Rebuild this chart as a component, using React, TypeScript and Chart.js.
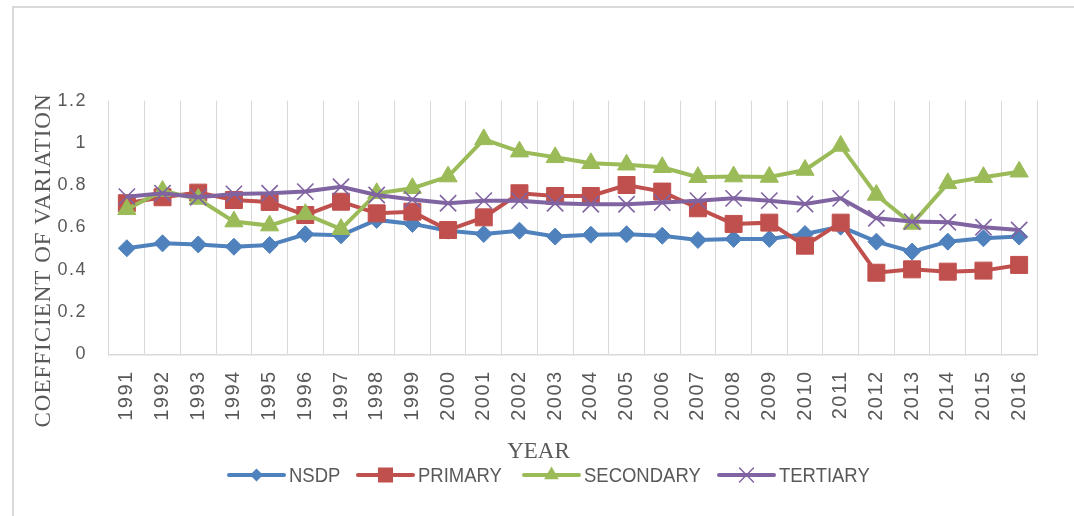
import { useEffect, useRef } from 'react';
import { Chart, registerables } from 'chart.js';

Chart.register(...registerables);

// Years on the category axis
const YEARS = [
  '1991', '1992', '1993', '1994', '1995', '1996', '1997', '1998', '1999', '2000',
  '2001', '2002', '2003', '2004', '2005', '2006', '2007', '2008', '2009', '2010',
  '2011', '2012', '2013', '2014', '2015', '2016',
];

// Coefficient of variation per series
const NSDP = [
  0.502, 0.525, 0.52, 0.509, 0.517, 0.568, 0.563, 0.636, 0.617, 0.585,
  0.569, 0.585, 0.557, 0.566, 0.568, 0.561, 0.541, 0.546, 0.546, 0.569,
  0.604, 0.533, 0.486, 0.533, 0.549, 0.557,
];
const PRIMARY = [
  0.715, 0.743, 0.765, 0.73, 0.721, 0.659, 0.722, 0.667, 0.675, 0.588,
  0.648, 0.762, 0.749, 0.749, 0.801, 0.77, 0.691, 0.617, 0.623, 0.514,
  0.623, 0.386, 0.402, 0.391, 0.396, 0.423,
];
const SECONDARY = [
  0.686, 0.773, 0.735, 0.628, 0.609, 0.663, 0.592, 0.762, 0.786, 0.841,
  1.017, 0.959, 0.932, 0.904, 0.897, 0.885, 0.838, 0.841, 0.839, 0.872,
  0.986, 0.754, 0.617, 0.809, 0.838, 0.864,
];
const TERTIARY = [
  0.746, 0.762, 0.743, 0.759, 0.762, 0.77, 0.793, 0.754, 0.733, 0.715,
  0.727, 0.727, 0.715, 0.71, 0.71, 0.718, 0.727, 0.738, 0.727, 0.711,
  0.738, 0.644, 0.628, 0.625, 0.601, 0.588,
];

const SERIES_NAMES = ['NSDP', 'PRIMARY', 'SECONDARY', 'TERTIARY'];
const Y_TICKS = [0, 0.2, 0.4, 0.6, 0.8, 1, 1.2];
const X_TITLE = 'YEAR';
const Y_TITLE = 'COEFFICIENT OF VARIATION';

const COLORS = ['#4F81BD', '#C0504D', '#9BBB59', '#8064A2'];
const MARKERS = ['diamond', 'square', 'triangle', 'cross'];
const TEXT = '#595959';
const GRID = '#d9d9d9';
const SANS = "'Liberation Sans', Arial, sans-serif";
const SERIF = "'Liberation Serif', 'Times New Roman', serif";

function drawMarker(ctx: CanvasRenderingContext2D, kind: string, x: number, y: number, color: string) {
  ctx.save();
  ctx.fillStyle = color;
  ctx.strokeStyle = color;
  ctx.beginPath();
  if (kind === 'diamond') {
    const r = 6.5;
    ctx.moveTo(x, y - r);
    ctx.lineTo(x + r, y);
    ctx.lineTo(x, y + r);
    ctx.lineTo(x - r, y);
    ctx.closePath();
    ctx.fill();
  } else if (kind === 'square') {
    const h = 7.5;
    ctx.rect(x - h, y - h, 2 * h, 2 * h);
    ctx.fill();
  } else if (kind === 'triangle') {
    const r = 8.5;
    ctx.moveTo(x, y - r);
    ctx.lineTo(x + r * 0.866, y + r / 2);
    ctx.lineTo(x - r * 0.866, y + r / 2);
    ctx.closePath();
    ctx.fill();
  } else {
    const h = 7;
    ctx.lineWidth = 1.5;
    ctx.moveTo(x - h, y - h);
    ctx.lineTo(x + h, y + h);
    ctx.moveTo(x + h, y - h);
    ctx.lineTo(x - h, y + h);
    ctx.stroke();
  }
  ctx.restore();
}

const decorPlugin = {
  id: 'decor',
  beforeDraw(chart: any) {
    (chart.ctx as any).letterSpacing = '1.5px';
  },
  afterDraw(chart: any) {
    const ctx: CanvasRenderingContext2D = chart.ctx;
    const area = chart.chartArea;
    ctx.save();
    (ctx as any).letterSpacing = '0px';

    // outer frame
    ctx.strokeStyle = GRID;
    ctx.lineWidth = 2;
    ctx.beginPath();
    ctx.moveTo(13, 516);
    ctx.lineTo(13, 7);
    ctx.lineTo(1074, 7);
    ctx.stroke();

    // vertical axis title
    ctx.fillStyle = TEXT;
    ctx.font = `23px ${SERIF}`;
    (ctx as any).letterSpacing = '1px';
    ctx.textAlign = 'center';
    ctx.textBaseline = 'alphabetic';
    ctx.save();
    ctx.translate(42.5, 260.5);
    ctx.rotate(-Math.PI / 2);
    ctx.fillText(Y_TITLE, 0, 7.5);
    ctx.restore();

    // horizontal axis title
    (ctx as any).letterSpacing = '0px';
    ctx.fillText(X_TITLE, 538.5, 458);

    // legend
    const starts = [229, 358, 524, 719];
    const lineY = 475;
    SERIES_NAMES.forEach((name, i) => {
      const x0 = starts[i];
      ctx.strokeStyle = COLORS[i];
      ctx.lineWidth = 4;
      ctx.lineCap = 'round';
      ctx.beginPath();
      ctx.moveTo(x0, lineY);
      ctx.lineTo(x0 + 55, lineY);
      ctx.stroke();
      drawMarker(ctx, MARKERS[i], x0 + 27.5, lineY, COLORS[i]);
      ctx.save();
      ctx.translate(x0 + 60, 482);
      ctx.scale(0.88, 1);
      ctx.font = `21px ${SANS}`;
      ctx.fillStyle = TEXT;
      ctx.textAlign = 'left';
      ctx.fillText(name, 0, 0);
      ctx.restore();
    });
    ctx.restore();
    void area;
  },
};

export default function App() {
  const ref = useRef<HTMLCanvasElement | null>(null);

  useEffect(() => {
    if (!ref.current) return;
    const series = [NSDP, PRIMARY, SECONDARY, TERTIARY];
    const styles = [
      { pointStyle: 'rectRot', pointRadius: 8.5, pointBorderWidth: 1 },
      { pointStyle: 'rect', pointRadius: 12, pointBorderWidth: 1 },
      { pointStyle: 'triangle', pointRadius: 10.5, pointBorderWidth: 1 },
      { pointStyle: 'crossRot', pointRadius: 11.5, pointBorderWidth: 1.6 },
    ];
    const chart = new Chart(ref.current, {
      type: 'line',
      data: {
        labels: YEARS,
        datasets: series.map((data, i) => ({
          label: SERIES_NAMES[i],
          data,
          borderColor: COLORS[i],
          backgroundColor: COLORS[i],
          pointBackgroundColor: COLORS[i],
          pointBorderColor: COLORS[i],
          borderWidth: 4,
          tension: 0,
          order: 4 - i,
          ...styles[i],
        })) as any,
      },
      options: {
        responsive: false,
        animation: false,
        events: [],
        layout: { padding: { left: 0, right: 37, top: 100.7, bottom: 0 } },
        plugins: {
          legend: { display: false },
          tooltip: { enabled: false },
        },
        scales: {
          x: {
            type: 'category',
            offset: true,
            grid: { offset: true, color: GRID, lineWidth: 1, drawTicks: false },
            border: { display: true, color: GRID, width: 1.5 },
            ticks: {
              autoSkip: false,
              maxRotation: 90,
              minRotation: 90,
              padding: 16,
              color: TEXT,
              font: { family: SANS, size: 20 },
            },
            afterFit: (s: any) => {
              s.height = 161.7;
            },
          },
          y: {
            min: Y_TICKS[0],
            max: Y_TICKS[Y_TICKS.length - 1],
            grid: { display: false, drawTicks: false },
            border: { display: false },
            ticks: {
              stepSize: Y_TICKS[1] - Y_TICKS[0],
              padding: 22,
              color: TEXT,
              font: { family: SANS, size: 18 },
              callback: (v: any) => String(Math.round(Number(v) * 10) / 10),
            },
            afterFit: (s: any) => {
              s.width = 109;
            },
          },
        },
      },
      plugins: [decorPlugin],
    });
    return () => chart.destroy();
  }, []);

  return (
    <div style={{ position: 'fixed', left: 0, top: 0, width: 1074, height: 516, background: '#fff' }}>
      <canvas ref={ref} width={1074} height={516} style={{ display: 'block' }} />
    </div>
  );
}
